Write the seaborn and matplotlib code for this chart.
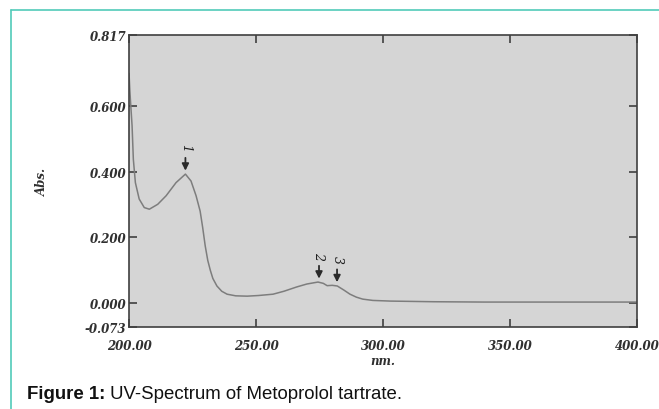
import numpy as np
import matplotlib.pyplot as plt
import pandas as pd
import seaborn as sns
from matplotlib.lines import Line2D

# UV spectrum values (nm, absorbance)
wavelength = [200, 200.3, 200.7, 201.2, 201.7, 202.5, 204, 206, 208, 211.3,
              214.6, 218.5, 222.2, 224.4, 226.4, 228, 229, 230, 231, 232, 233,
              234.6, 236.5, 238.6, 242, 246.5, 251, 256.7, 261, 266, 270,
              274.4, 276.5, 278, 280, 282, 284.5, 287, 289.5, 292, 296, 302.8,
              320, 340, 360, 380, 400]
absorbance = [0.70, 0.65, 0.60, 0.54, 0.438, 0.367, 0.317, 0.291, 0.286,
              0.301, 0.327, 0.367, 0.393, 0.372, 0.327, 0.28, 0.23, 0.174,
              0.13, 0.10, 0.075, 0.052, 0.036, 0.027, 0.022, 0.021, 0.023,
              0.027, 0.036, 0.049, 0.058, 0.064, 0.060, 0.053, 0.054, 0.052,
              0.040, 0.027, 0.018, 0.012, 0.008, 0.006, 0.004, 0.003, 0.003,
              0.003, 0.003]

peak_labels = ['1', '2', '3']
peak_nm = [222.2, 274.8, 281.9]
peak_abs = [0.393, 0.064, 0.053]

x_ticks = [200, 250, 300, 350, 400]
y_ticks = [-0.073, 0.0, 0.2, 0.4, 0.6, 0.817]

df = pd.DataFrame({'nm': wavelength, 'abs': absorbance})

sns.set_style('ticks')
plt.rcParams['font.family'] = ['DejaVu Serif']

fig = plt.figure(figsize=(6.59, 4.10), dpi=100)
ax = fig.add_axes([0.1958, 0.2, 0.7708, 0.7122])
ax.set_facecolor('#d5d5d5')

sns.lineplot(data=df, x='nm', y='abs', ax=ax, color='#7d7d7d', linewidth=1.1)

for lab, xn, ya in zip(peak_labels, peak_nm, peak_abs):
    ax.annotate('', xy=(xn, ya + 0.002), xytext=(xn, ya + 0.058),
                arrowprops=dict(arrowstyle='-|>', color='#2a2a2a', lw=1.3,
                                mutation_scale=10))
    ax.text(xn, ya + 0.07, lab, rotation=270, ha='center', va='bottom',
            fontsize=9, fontstyle='italic', color='#202020')

ax.set_xlim(200, 400)
ax.set_ylim(-0.073, 0.817)
ax.set_xticks(x_ticks)
ax.set_xticklabels(['%.2f' % v for v in x_ticks])
ax.set_yticks(y_ticks)
ax.set_yticklabels(['%.3f' % v for v in y_ticks])
ax.tick_params(direction='in', length=6, width=1.2, color='#404040',
               top=True, right=True, labelsize=8.5)
ax.tick_params(axis='x', pad=9)
ax.tick_params(axis='y', pad=2)
for lbl in ax.get_xticklabels() + ax.get_yticklabels():
    lbl.set_fontweight('bold')
    lbl.set_fontstyle('italic')
    lbl.set_color('#303030')
for s in ax.spines.values():
    s.set_color('#404040')
    s.set_linewidth(1.2)

ax.set_xlabel('nm.', fontsize=8.5, fontweight='bold', fontstyle='italic',
              color='#303030', labelpad=1)
ax.set_ylabel('Abs.', fontsize=8.5, fontweight='bold', fontstyle='italic',
              color='#303030', labelpad=26)

# teal frame on the left and top
teal = '#52cbb9'
fig.add_artist(Line2D([11 / 659, 11 / 659], [0, 1 - 11 / 410], color=teal,
                      lw=1.2, transform=fig.transFigure))
fig.add_artist(Line2D([11 / 659, 1], [1 - 11 / 410, 1 - 11 / 410], color=teal,
                      lw=1.2, transform=fig.transFigure))

# caption
cap_font = ['Liberation Sans', 'DejaVu Sans']
t1 = fig.text(27 / 659, 1 - 395 / 410, 'Figure 1:', fontsize=13.4,
              fontweight='bold', family=cap_font, va='center', color='#111111')
fig.canvas.draw()
bb = t1.get_window_extent()
fig.text(bb.x1 / fig.bbox.width, 1 - 395 / 410, ' UV-Spectrum of Metoprolol tartrate.',
         fontsize=13.4, family=cap_font, va='center', color='#111111')

fig.savefig('out.png', dpi=100)
